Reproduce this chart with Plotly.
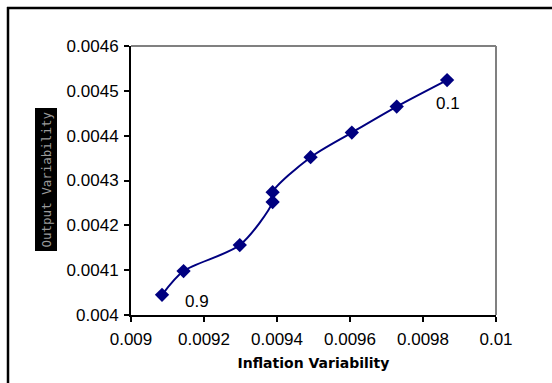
import plotly.graph_objects as go

# Data
inflation_var = [0.009085, 0.009144, 0.009298, 0.009388, 0.009388, 0.009492, 0.009605, 0.009728, 0.009866]
output_var = [0.004045, 0.004098, 0.004156, 0.004252, 0.004274, 0.004352, 0.004407, 0.004465, 0.004524]
x_ticks = [0.009, 0.0092, 0.0094, 0.0096, 0.0098, 0.01]
x_tick_text = ["0.009", "0.0092", "0.0094", "0.0096", "0.0098", "0.01"]
y_ticks = [0.004, 0.0041, 0.0042, 0.0043, 0.0044, 0.0045, 0.0046]
y_tick_text = ["0.004", "0.0041", "0.0042", "0.0043", "0.0044", "0.0045", "0.0046"]
point_labels = ["0.9", "0.1"]

W, H = 552, 383
L, R, T, B = 131, 56, 46, 68
pw, ph = W - L - R, H - T - B

def px2paper_x(px):
    return (px - L) / pw

def py2paper_y(py):
    return (H - B - py) / ph

fig = go.Figure()
fig.add_trace(go.Scatter(
    x=inflation_var, y=output_var,
    mode="lines+markers",
    line=dict(color="#000080", width=2, shape="spline", smoothing=0.8),
    marker=dict(symbol="diamond", size=11, color="#000080"),
    showlegend=False,
))

font_tick = dict(family="Liberation Sans, Arial, sans-serif", size=17, color="black")

fig.update_layout(
    width=W, height=H,
    margin=dict(l=L, r=R, t=T, b=B),
    paper_bgcolor="white", plot_bgcolor="white",
    xaxis=dict(
        range=[0.009, 0.01], tickvals=x_ticks, ticktext=x_tick_text,
        showgrid=False, zeroline=False, showline=True, linecolor="black", linewidth=2,
        ticks="outside", ticklen=5, tickwidth=2, tickcolor="black",
        tickfont=font_tick, ticklabelstandoff=3,
        title=dict(text="<b>Inflation Variability</b>",
                   font=dict(family="DejaVu Sans, sans-serif", size=14, color="black"),
                   standoff=10),
    ),
    yaxis=dict(
        range=[0.004, 0.0046], tickvals=y_ticks, ticktext=y_tick_text,
        showgrid=False, zeroline=False, showline=True, linecolor="black", linewidth=2,
        ticks="outside", ticklen=5, tickwidth=2, tickcolor="black",
        tickfont=font_tick, ticklabelstandoff=2,
    ),
    shapes=[
        # gray top/right plot border
        dict(type="line", xref="paper", yref="paper", x0=0, x1=1, y0=1, y1=1,
             line=dict(color="#808080", width=2)),
        dict(type="line", xref="paper", yref="paper", x0=1, x1=1, y0=0, y1=1,
             line=dict(color="#808080", width=2)),
        # outer chart frame (left and top edges visible)
        dict(type="line", xref="paper", yref="paper",
             x0=px2paper_x(8), x1=px2paper_x(8), y0=py2paper_y(383), y1=py2paper_y(7),
             line=dict(color="black", width=2.5)),
        dict(type="line", xref="paper", yref="paper",
             x0=px2paper_x(7), x1=px2paper_x(552), y0=py2paper_y(8), y1=py2paper_y(8),
             line=dict(color="black", width=2.5)),
    ],
    annotations=[
        dict(x=inflation_var[1], y=output_var[1], xref="x", yref="y",
             text=point_labels[0], showarrow=False, xshift=13, yshift=-30,
             font=dict(family="Liberation Sans, Arial, sans-serif", size=17, color="black")),
        dict(x=inflation_var[-1], y=output_var[-1], xref="x", yref="y",
             text=point_labels[1], showarrow=False, xshift=1, yshift=-23,
             font=dict(family="Liberation Sans, Arial, sans-serif", size=17, color="black")),
        dict(x=px2paper_x(34), y=py2paper_y(180), xref="paper", yref="paper",
             text="Output Variability", textangle=-90, showarrow=False,
             bgcolor="black", borderpad=3,
             font=dict(family="DejaVu Sans Mono, monospace", size=12.5, color="#9a9a9a")),
    ],
)

fig.write_html("out.html")
